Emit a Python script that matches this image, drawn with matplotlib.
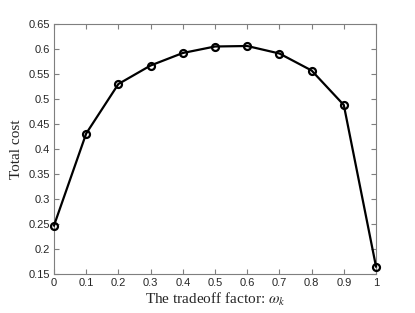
import matplotlib
matplotlib.use('Agg')
import matplotlib.pyplot as plt
import numpy as np

plt.rcParams['mathtext.fontset'] = 'stix'

# tradeoff factor vs total cost
omega = [0, 0.1, 0.2, 0.3, 0.4, 0.5, 0.6, 0.7, 0.8, 0.9, 1.0]
total_cost = [0.247, 0.431, 0.530, 0.567, 0.592, 0.605, 0.606, 0.591, 0.557, 0.488, 0.165]

xticks = np.arange(0, 1.01, 0.1)
yticks = np.arange(0.15, 0.651, 0.05)

fig = plt.figure(figsize=(4.15, 3.13), dpi=100)
ax = fig.add_axes([54 / 415, 1 - 274 / 313, 322 / 415, 250 / 313])
ax.plot(omega, total_cost, 'k-o', linewidth=1.6, markersize=5,
        markerfacecolor='none', markeredgewidth=1.6, clip_on=False, zorder=5)

ax.set_xlim(0, 1)
ax.set_ylim(0.15, 0.65)
ax.set_xticks(xticks)
ax.set_yticks(yticks)
ax.set_xticklabels(['%g' % round(t, 2) for t in xticks])
ax.set_yticklabels(['%g' % round(t, 2) for t in yticks])

grey = '#7f7f7f'
for s in ax.spines.values():
    s.set_color(grey)
    s.set_linewidth(0.8)
ax.tick_params(direction='in', top=True, right=True, length=3.5, width=0.8,
               color=grey, labelcolor='#262626', labelsize=8, pad=3)
for lab in ax.get_xticklabels() + ax.get_yticklabels():
    lab.set_family('Liberation Sans')

ax.set_xlabel(r'The tradeoff factor: $\omega_k$', family='Liberation Serif',
              fontsize=11, color='#262626', labelpad=2)
ax.set_ylabel('Total cost', family='Liberation Serif', fontsize=11,
              color='#262626', labelpad=4)

fig.savefig('out.png', dpi=100)
